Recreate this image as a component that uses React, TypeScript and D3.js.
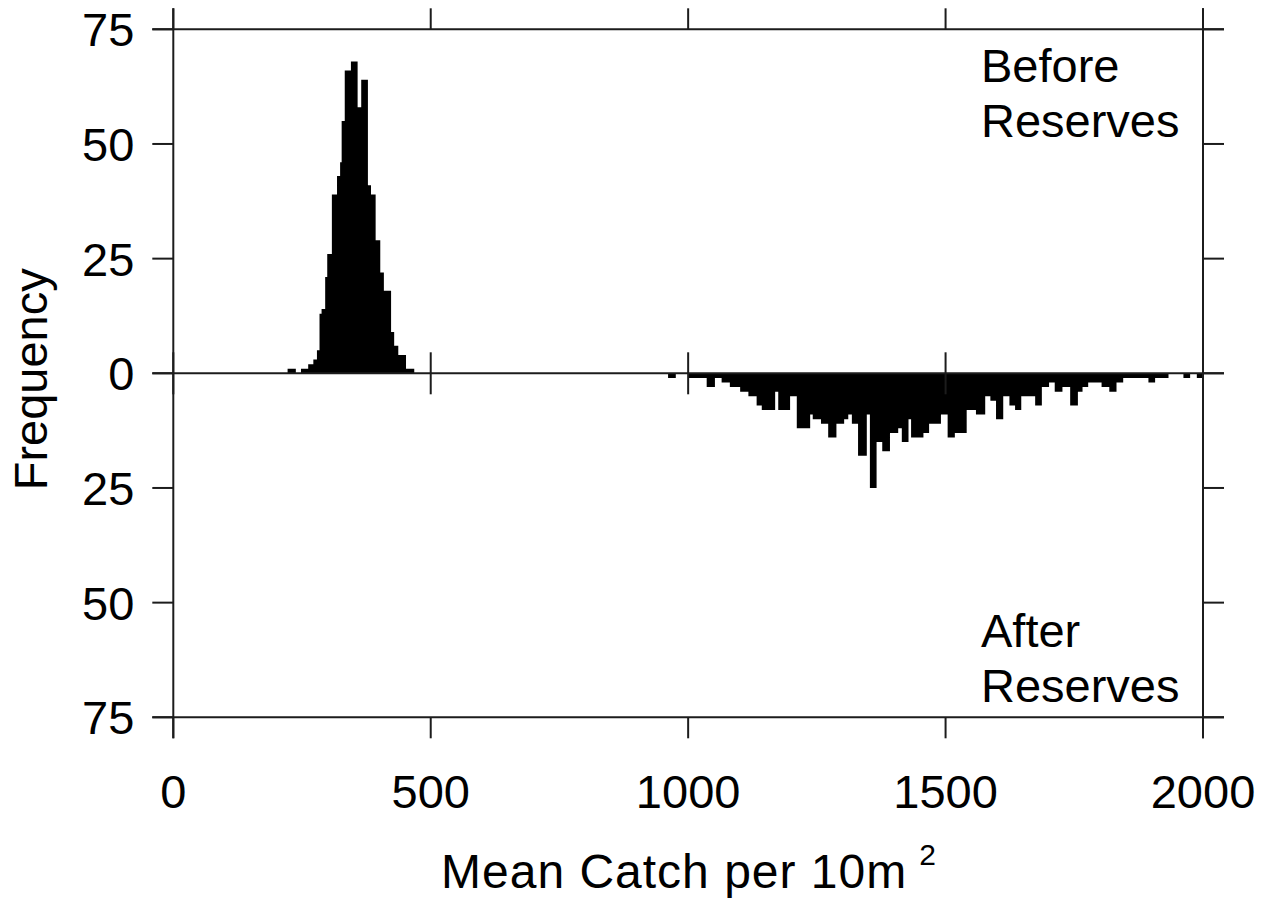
import React from "react";
import * as d3 from "d3";

// Histogram bin edges (Mean catch per 10 m^2) and frequencies
const beforeEdges = [222, 238, 248, 262, 272, 279, 284, 288, 295, 299, 308, 318, 324, 327, 333, 345, 358, 365, 378, 384, 393, 402, 409, 423, 429, 437, 452, 468];
const beforeCounts = [1, 0, 1, 2, 3, 5, 13, 14, 21, 26, 39, 43, 46, 55, 66, 68, 58, 64, 41, 39, 29, 22, 18, 9, 6, 4, 1];

const afterEdges = [961, 976, 1000, 1036, 1052, 1065, 1081, 1101, 1117, 1133, 1143, 1169, 1175, 1198, 1211, 1237, 1242, 1258, 1272, 1288, 1303, 1311, 1318, 1330, 1347, 1353, 1366, 1377, 1392, 1408, 1415, 1428, 1433, 1457, 1468, 1491, 1499, 1504, 1518, 1541, 1559, 1577, 1587, 1598, 1612, 1624, 1635, 1647, 1674, 1687, 1701, 1712, 1727, 1742, 1757, 1766, 1777, 1803, 1818, 1832, 1845, 1894, 1907, 1933, 1962, 1975, 1988, 2000];
const afterCounts = [1, 0, 1, 3, 1, 2, 3, 4, 5, 7, 8, 4, 8, 5, 12, 9, 10, 11, 14, 11, 10, 9, 11, 18, 9, 25, 15, 17, 13, 12, 15, 10, 14, 13, 11, 9, 9, 14, 13, 8, 9, 5, 6, 10, 5, 7, 8, 5, 7, 3, 2, 4, 3, 7, 4, 3, 2, 3, 4, 2, 1, 2, 1, 0, 1, 0, 1];

const xTicks = [0, 500, 1000, 1500, 2000];
const yTicks = [-75, -50, -25, 0, 25, 50, 75];

const W = 1266;
const H = 898;
const FONT = "'Liberation Sans', Arial, Helvetica, sans-serif";
const INK = "#1c1c1c";
const TICK = 21;

export default function App() {
  const x = d3.scaleLinear().domain([0, 2000]).range([173.3, 1203]);
  const y = d3.scaleLinear().domain([-75, 75]).range([717.3, 29.3]);
  const x0 = x(0);
  const x1 = x(2000);

  // step points: each bin's left edge with its count, plus the closing right edge
  const steps = (edges: number[], counts: number[], sign: number) =>
    edges.map((e, i) => ({ e, c: sign * counts[Math.min(i, counts.length - 1)] }));

  const area = d3
    .area<{ e: number; c: number }>()
    .x(d => x(d.e))
    .y0(() => y(0))
    .y1(d => y(d.c))
    .curve(d3.curveStepAfter);

  const beforePath = area(steps(beforeEdges, beforeCounts, 1)) || "";
  const afterPath = area(steps(afterEdges, afterCounts, -1)) || "";

  return (
    <div style={{ position: "absolute", left: 0, top: 0 }}>
      <svg width={W} height={H} style={{ display: "block", background: "#fff" }}>
        {/* histograms */}
        <path d={beforePath} fill="#000" />
        <path d={afterPath} fill="#000" />
        {/* frame lines */}
        <g stroke={INK} strokeWidth={2} fill="none">
          {[75, 0, -75].map(v => (
            <line key={"h" + v} x1={x0 - TICK} x2={x1 + TICK} y1={y(v)} y2={y(v)} />
          ))}
          <line x1={x0} x2={x0} y1={y(75) - TICK} y2={y(-75) + TICK} />
          <line x1={x1} x2={x1} y1={y(75) - TICK} y2={y(-75) + TICK} />
          {yTicks.map(v => (
            <g key={"yt" + v}>
              <line x1={x0 - TICK} x2={x0} y1={y(v)} y2={y(v)} />
              <line x1={x1} x2={x1 + TICK} y1={y(v)} y2={y(v)} />
            </g>
          ))}
          {xTicks.map(v => (
            <g key={"xt" + v}>
              <line x1={x(v)} x2={x(v)} y1={y(75) - TICK} y2={y(75)} />
              <line x1={x(v)} x2={x(v)} y1={y(-75)} y2={y(-75) + TICK} />
              <line x1={x(v)} x2={x(v)} y1={y(0) - TICK} y2={y(0) + TICK} />
            </g>
          ))}
        </g>
        {/* tick labels */}
        <g fontFamily={FONT} fontSize={47} fill="#000">
          {yTicks.map(v => (
            <text key={"yl" + v} x={x0 - 39} y={y(v)} dy="0.36em" textAnchor="end">{Math.abs(v)}</text>
          ))}
          {xTicks.map(v => (
            <text key={"xl" + v} x={x(v)} y={808} textAnchor="middle">{v}</text>
          ))}
        </g>
        {/* axis titles */}
        <text fontFamily={FONT} fontSize={47} fill="#000" transform={`translate(47, ${(y(75) + y(-75)) / 2 + 6}) rotate(-90)`} textAnchor="middle">Frequency</text>
        <text fontFamily={FONT} fontSize={48} fill="#000" x={441} y={888} letterSpacing={1}>
          Mean Catch per 10m
          <tspan dx={12} dy={-23} fontSize={30} letterSpacing={0}>2</tspan>
        </text>
        {/* panel labels */}
        <g fontFamily={FONT} fontSize={47} fill="#000">
          <text x={981} y={82}>Before</text>
          <text x={981} y={137}>Reserves</text>
          <text x={981} y={647}>After</text>
          <text x={981} y={702}>Reserves</text>
        </g>
      </svg>
    </div>
  );
}
